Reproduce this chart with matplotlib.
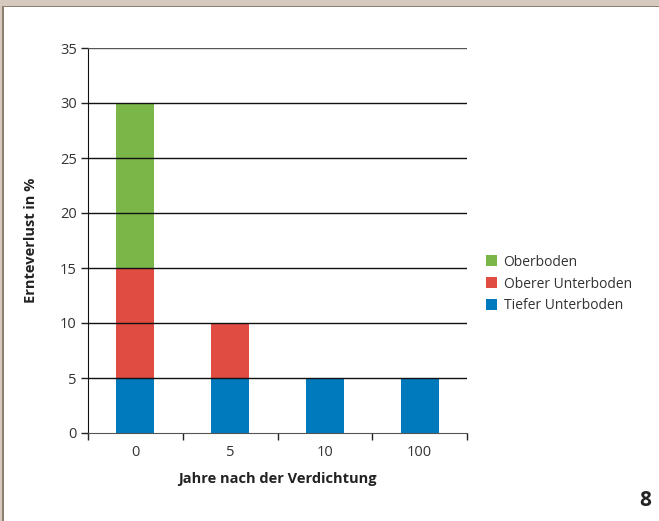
import matplotlib
matplotlib.use("Agg")
import matplotlib.pyplot as plt
from matplotlib.patches import Rectangle
import numpy as np

categories = ["0", "5", "10", "100"]
tiefer = [5, 5, 5, 5]
oberer = [10, 5, 0, 0]
oberboden = [15, 0, 0, 0]
yticks = [0, 5, 10, 15, 20, 25, 30, 35]

c_green = "#7ab648"
c_red = "#e04b42"
c_blue = "#0079bd"

plt.rcParams['font.family'] = ['Open Sans', 'DejaVu Sans']

fig = plt.figure(figsize=(6.59, 5.21), dpi=100)
fig.patch.set_facecolor("white")
# frame
fig.patches.append(Rectangle((0, 1 - 6/521), 1, 6/521, transform=fig.transFigure, facecolor="#d6cabe", edgecolor="none"))
fig.patches.append(Rectangle((0, 1 - 7/521), 1, 1.5/521, transform=fig.transFigure, facecolor="#8c7f70", edgecolor="none"))
fig.patches.append(Rectangle((0, 0), 2/659, 1 - 6/521, transform=fig.transFigure, facecolor="#d6cabe", edgecolor="none"))
fig.patches.append(Rectangle((2/659, 0), 1.5/659, 1 - 6/521, transform=fig.transFigure, facecolor="#8c7f70", edgecolor="none"))

ax = fig.add_axes([88/659, 1 - 433/521, (467 - 88)/659, (433 - 48)/521])
x = np.arange(len(categories))
w = 0.4
ax.bar(x, tiefer, w, color=c_blue, label="Tiefer Unterboden", zorder=3)
ax.bar(x, oberer, w, bottom=tiefer, color=c_red, label="Oberer Unterboden", zorder=3)
bottom2 = [a + b for a, b in zip(tiefer, oberer)]
ax.bar(x, oberboden, w, bottom=bottom2, color=c_green, label="Oberboden", zorder=3)

ax.set_xlim(-0.5, len(categories) - 0.5)
ax.set_ylim(0, 35)
ax.set_yticks(yticks)
ax.set_yticklabels([str(v) for v in yticks], fontsize=10.5, color="#333333")
ax.set_xticks(x)
ax.set_xticklabels(categories, fontsize=10.5, color="#333333")
ax.tick_params(axis="x", length=0, pad=9)
ax.set_xticks(np.arange(-0.5, len(categories)), minor=True)
ax.tick_params(axis="x", which="minor", length=5, width=1, color="#222222")
ax.tick_params(axis="y", length=5, width=1, color="#222222", pad=3)

for v in yticks[1:]:
    ax.axhline(v, color="#111111" if v < 35 else "#555555", linewidth=1, zorder=4)

for s in ["top", "right"]:
    ax.spines[s].set_visible(False)
ax.spines["left"].set_color("#111111")
ax.spines["bottom"].set_color("#555555")

ax.set_xlabel("Jahre nach der Verdichtung", fontsize=10.5, fontweight="bold", color="#222222", labelpad=8)
ax.set_ylabel("Ernteverlust in %", fontsize=10.5, fontweight="bold", color="#222222", labelpad=16)

handles, labels = ax.get_legend_handles_labels()
leg = fig.legend(handles[::-1], labels[::-1], loc="center left", bbox_to_anchor=(473/659, 1 - 284/521),
                 frameon=False, fontsize=10, handlelength=0.8, handleheight=0.8, handletextpad=0.5,
                 labelspacing=0.5, labelcolor="#333333")

fig.text(645/659, 1 - 500/521, "8", fontsize=15, fontweight="bold", ha="center", va="center", color="#222222")

fig.savefig("out.png", dpi=100)
